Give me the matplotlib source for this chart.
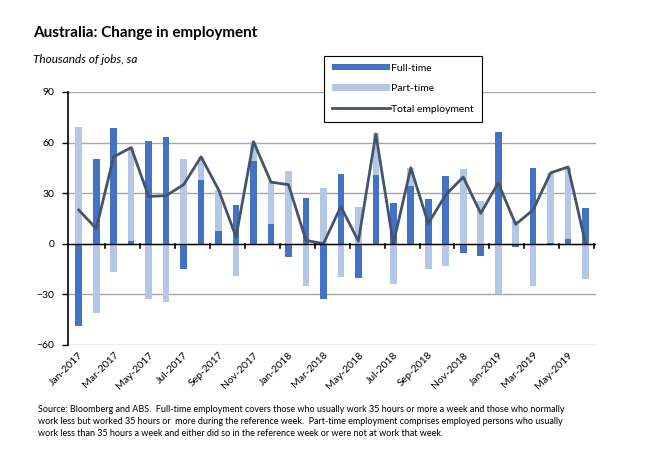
import matplotlib.pyplot as plt
import numpy as np

# ---------------------------------------------------------------------
# Data (thousands of jobs, sa)
# ---------------------------------------------------------------------

months = [
    "Jan-2017", "Feb-2017", "Mar-2017", "Apr-2017", "May-2017", "Jun-2017",
    "Jul-2017", "Aug-2017", "Sep-2017", "Oct-2017", "Nov-2017", "Dec-2017",
    "Jan-2018", "Feb-2018", "Mar-2018", "Apr-2018", "May-2018", "Jun-2018",
    "Jul-2018", "Aug-2018", "Sep-2018", "Oct-2018", "Nov-2018", "Dec-2018",
    "Jan-2019", "Feb-2019", "Mar-2019", "Apr-2019", "May-2019", "Jun-2019",
]

full_time = [
    -49, 50, 68.5, 1.5, 61, 63,
    -15, 37.5, 7.5, 23, 49, 11.5,
    -8, 27, -33, 41.5, -20.5, 41,
    24, 34, 26.5, 40, -5.5, -7.5,
    66, -2, 45, 0.5, 3, 21,
]

part_time = [
    69, -41, -17, 55.5, -33, -34.5,
    50, 14, 24.5, -19, 11.5, 25,
    43, -25, 33, -19.5, 22, 24.5,
    -24, 11, -15, -13, 44.5, 25.5,
    -30, 13.5, -25, 41.5, 42, -21,
]

total = [
    20, 9, 51.5, 57, 28, 28.5,
    35, 51.5, 32, 4, 60.5, 36.5,
    35, 2, 0, 22, 1.5, 65,
    0, 45, 12, 29, 39.5, 18,
    36, 11.5, 20, 42, 45.5, 0,
]

# ---------------------------------------------------------------------
# Visualize
# ---------------------------------------------------------------------

plt.rcParams["font.family"] = ["Lato", "DejaVu Sans"]

dark_blue = "#4472C4"
light_blue = "#B4C7E7"
line_col = "#44546A"

fig = plt.figure(figsize=(6.5, 4.55), dpi=100)
ax = fig.add_axes([0.105, 0.242, 0.812, 0.556])

x = np.arange(len(months))
ft = np.array(full_time)
pt = np.array(part_time)

# stacked like Excel: same sign stacks on full-time, opposite sign starts at 0
pt_bottom = np.where(np.sign(pt) == np.sign(ft), ft, 0)

width = 0.38
h_ft = ax.bar(x, ft, width, color=dark_blue, label="Full-time", zorder=2)
h_pt = ax.bar(x, pt, width, bottom=pt_bottom, color=light_blue, label="Part-time", zorder=2)
h_tot, = ax.plot(x, total, color=line_col, linewidth=2, label="Total employment", zorder=3)

ax.set_ylim(-60, 90)
ax.set_yticks(range(-60, 91, 30))
ax.set_xlim(-0.6, len(months) - 0.4)
ax.grid(axis="y", color="#A6A6A6", linewidth=1, zorder=0)
ax.axhline(0, color="black", linewidth=1, zorder=4)

for side in ["top", "right", "bottom"]:
    ax.spines[side].set_visible(False)
ax.spines["left"].set_linewidth(1.2)

ax.tick_params(axis="y", labelsize=7.5, length=4, width=1, direction="out", pad=6)

# labels every second month, tick marks between label pairs on the zero line
ax.set_xticks(x[::2])
ax.set_xticklabels(months[::2], rotation=45, ha="right", rotation_mode="anchor", fontsize=7.5)
ax.tick_params(axis="x", length=0, pad=4)
for b in np.arange(1.5, len(months), 2):
    ax.plot([b, b], [0, -2.5], color="black", linewidth=1.2, zorder=4, clip_on=False)

leg = ax.legend(
    [h_ft, h_pt, h_tot],
    ["Full-time", "Part-time", "Total employment"],
    loc="upper left",
    bbox_to_anchor=(0.485, 1.142),
    fontsize=7.5,
    frameon=True,
    fancybox=False,
    edgecolor="black",
    framealpha=1,
    handlelength=5.6,
    handleheight=0.6,
    labelspacing=1.1,
    borderpad=0.75,
    handletextpad=0.1,
    borderaxespad=0,
)
leg.get_frame().set_linewidth(0.8)
leg.set_zorder(5)

fig.text(0.051, 0.918, "Australia: Change in employment", fontsize=11, fontweight="bold")
fig.text(0.051, 0.862, "Thousands of jobs, sa", fontsize=8.5, style="italic")

footnote = (
    "Source: Bloomberg and ABS.  Full-time employment covers those who usually work 35 hours or more a week and those who normally\n"
    "work less but worked 35 hours or  more during the reference week.  Part-time employment comprises employed persons who usually\n"
    "work less than 35 hours a week and either did so in the reference week or were not at work that week."
)
fig.text(0.058, 0.037, footnote, fontsize=6.5, linespacing=1.45, va="bottom")

plt.savefig("out.png", dpi=100)
